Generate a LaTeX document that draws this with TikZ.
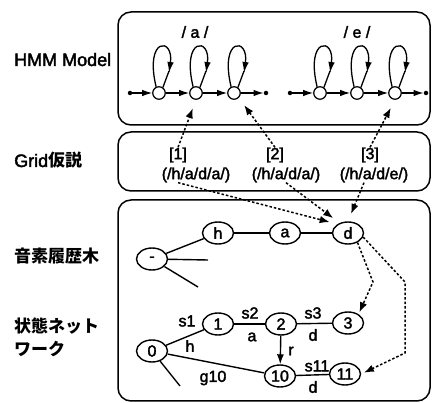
\documentclass[tikz,border=0pt]{standalone}
\usepackage{fontspec}
\setmainfont{Liberation Sans}[FakeBold=2.2]
\newfontfamily\jp{Noto Sans CJK JP}
\usetikzlibrary{arrows.meta,shapes.geometric,calc}
\begin{document}
\begin{tikzpicture}[x=1pt,y=-1pt,
  box/.style={draw,line width=1.5pt,rounded corners=13pt},
  st/.style={draw,circle,line width=1.2pt,minimum size=12.5pt,inner sep=0pt,fill=white},
  dotn/.style={circle,fill,inner sep=0pt,minimum size=4.5pt},
  harr/.style={line width=1.2pt,-{Latex[length=10pt,width=6.5pt]}},
  lp/.style={line width=1.3pt},
  lparr/.style={line width=1.3pt,-{Latex[length=11pt,width=6.5pt]}},
  dotarr/.style={line width=1.5pt,dash pattern=on 2.5pt off 2pt,-{Latex[length=10pt,width=7.5pt]}},
  en/.style={draw,ellipse,line width=1.4pt,minimum width=31pt,minimum height=22pt,inner sep=0pt,font=\fontsize{16}{16}\selectfont},
  ed/.style={line width=1.4pt},
  lab/.style={font=\fontsize{16}{16}\selectfont,inner sep=0pt},
  side/.style={anchor=base west,inner sep=0pt,font=\fontsize{18}{18}\selectfont},
  jside/.style={anchor=base west,inner sep=0pt,font=\fontsize{17}{17}\selectfont\jp\bfseries}
]
\useasboundingbox (0,0) rectangle (432,403);

% boxes
\draw[box] (118,12) rectangle (430,125);
\draw[box] (118,132) rectangle (430,191);
\draw[box] (118,200) rectangle (430,401);

% side labels
\node[side] (lhmm) at (14,66) {HMM Model};
\node[side] (lgrid) at (14,167) {Grid{\fontsize{17}{17}\selectfont\jp\bfseries 仮説}};
\node[jside] (ltree) at (14,263) {音素履歴木};
\node[jside] (lnet1) at (14,333) {状態ネット};
\node[jside] (lnet2) at (14,356) {ワーク};

% HMM
\node[lab] (pa) at (195,32) {/ a /};
\node[lab] (pe) at (357,32) {/ e /};
\node[dotn] (as) at (130,93) {};
\node[st] (a1) at (159,93) {};
\node[st] (a2) at (196,93) {};
\node[st] (a3) at (234,93) {};
\node[dotn] (ae) at (266,93) {};
\node[dotn] (es) at (290,93) {};
\node[st] (e1) at (320,93) {};
\node[st] (e2) at (357,93) {};
\node[st] (e3) at (395,93) {};
\node[dotn] (ee) at (426,93) {};
\draw[harr] (as) -- (a1);
\draw[harr] (a1) -- (a2);
\draw[harr] (a2) -- (a3);
\draw[harr] (a3) -- (ae);
\draw[harr] (es) -- (e1);
\draw[harr] (e1) -- (e2);
\draw[harr] (e2) -- (e3);
\draw[harr] (e3) -- (ee);
\foreach \s in {a1,a2,a3,e1,e2,e3}{
  \draw[lparr] (\s.115) .. controls +(-12,-50) and +(5,-36) .. ([shift={(10,-20)}]\s.center);
  \draw[lp] ([shift={(10,-22)}]\s.center) -- (\s.55);
}

% Grid
\node[lab] (g1) at (178,155) {[1]};
\node[lab] (t1) at (196,175) {(/h/a/d/a/)};
\node[lab] (g2) at (275,155) {[2]};
\node[lab] (t2) at (286,175) {(/h/a/d/a/)};
\node[lab] (g3) at (370,155) {[3]};
\node[lab] (t3) at (374,175) {(/h/a/d/e/)};

% tree
\node[en] (root) at (152,259) {-};
\node[en] (th) at (218,233) {h};
\node[en] (ta) at (285,233) {a};
\node[en] (td) at (348,233) {d};
\coordinate (r1) at (208,260);
\coordinate (r2) at (198,287);
\draw[ed] (root) -- (th);
\draw[ed] (th) -- (ta);
\draw[ed] (ta) -- (td);
\draw[ed] (root) -- (r1);
\draw[ed] (root) -- (r2);

% network
\node[en] (n0) at (152,351) {0};
\node[en] (n1) at (218,324) {1};
\node[en] (n2) at (281,324) {2};
\node[en] (n3) at (348,323) {3};
\node[en] (n10) at (280,376) {10};
\node[en] (n11) at (345,374) {11};
\coordinate (r3) at (180,386);
\draw[ed] (n0) -- (n1);
\draw[ed] (n1) -- (n2);
\draw[ed] (n2) -- (n3);
\draw[ed] (n0) -- (n10);
\draw[ed] (n10) -- (n11);
\draw[ed] (n0) -- (r3);
\draw[ed,-{Latex[length=10pt,width=7pt]}] (n2) -- (n10);
\node[lab] (ls1) at (187,321) {s1};
\node[lab] (lh) at (190,346) {h};
\node[lab] (ls2) at (250,313) {s2};
\node[lab] (la) at (252,337) {a};
\node[lab] (ls3) at (313,313) {s3};
\node[lab] (ld) at (313,335) {d};
\node[lab] (lr) at (291,351) {r};
\node[lab] (lg10) at (213,378) {g10};
\node[lab] (ls11) at (317,366) {s11};
\node[lab] (ld2) at (313,387) {d};

% dotted connectors
\draw[dotarr,shorten >=9pt] (g1.north) -- (a2.south);
\draw[dotarr,shorten >=9pt] (g2.north) -- (a3.south east);
\draw[dotarr,shorten >=9pt] (g3.north) -- (e3.south);
\draw[dotarr,shorten >=8pt] ([xshift=-18pt]t1.south) -- (td.140);
\draw[dotarr,shorten >=8pt] (t2.south) -- (td.130);
\draw[dotarr,shorten >=8pt] ([xshift=-10pt]t3.south) -- (td.north);
\coordinate (k1) at (373,282);
\coordinate (k2) at (405,282);
\coordinate (k3) at (405,353);
\draw[dotarr,shorten >=2pt] (td.-45) -- (k1) -- (n3.40);
\draw[dotarr,shorten >=3pt] (td.-15) -- (k2) -- (k3) -- (n11.east);
\end{tikzpicture}
\end{document}
